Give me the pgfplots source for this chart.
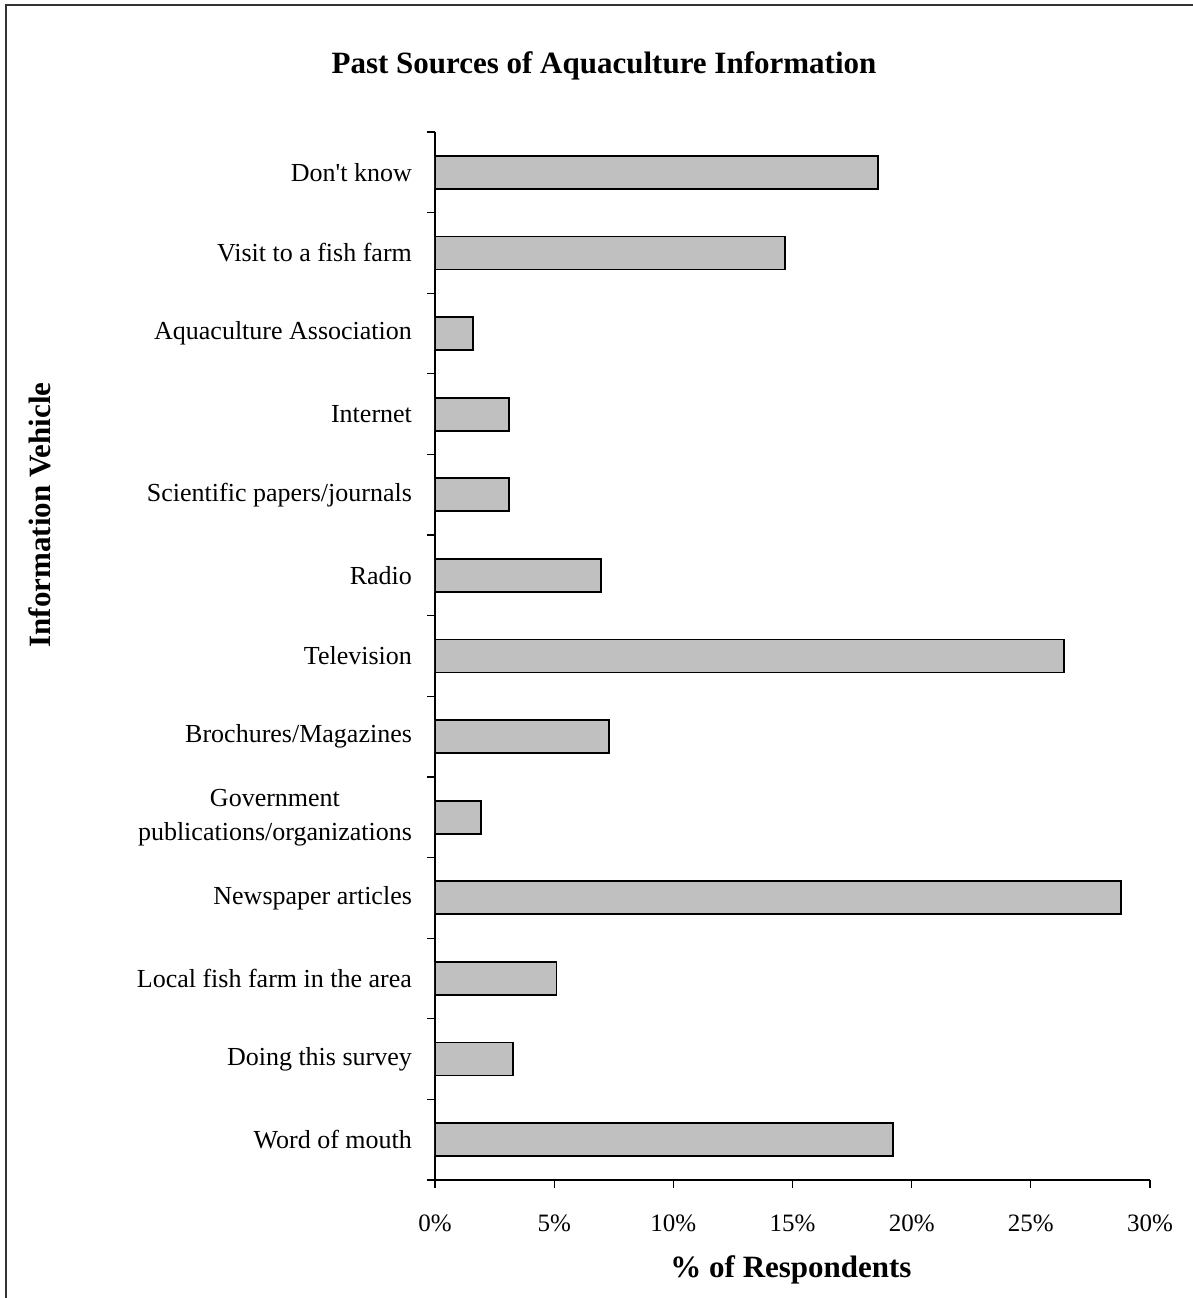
\documentclass[border=0pt]{standalone}
\usepackage{fontspec}
\setmainfont{Liberation Serif}[Ligatures=TeXOff]
\usepackage{pgfplots}
\pgfplotsset{compat=1.18}
\definecolor{barfill}{RGB}{192,192,192}
\definecolor{framec}{RGB}{51,51,51}
\begin{document}
\begin{tikzpicture}[x=1pt,y=1pt]
\useasboundingbox (0,0) rectangle (596.5,-649);
\draw[framec,line width=1.2pt] (3,-649) -- (3,-2.5) -- (596.5,-2.5);
\begin{axis}[
  at={(217.5pt,-590pt)}, anchor=south west,
  scale only axis, width=357.5pt, height=524pt,
  xbar, bar width=16.5pt,
  xmin=0, xmax=30, ymin=-0.5, ymax=12.5,
  axis x line*=bottom, axis y line*=left,
  axis line style={-, line width=0.6pt},
  tick align=outside,
  xtick={0,5,...,30},
  xticklabels={0\%,5\%,10\%,15\%,20\%,25\%,30\%},
  major tick length=4pt,
  ytick={0,...,12},
  yticklabels={Word of mouth,Doing this survey,Local fish farm in the area,Newspaper articles,{Government\\publications/organizations},Brochures/Magazines,Television,Radio,Scientific papers/journals,Internet,Aquaculture Association,Visit to a fish farm,Don't know},
  major y tick style={draw=none},
  minor ytick={-0.5,0.5,...,12.5},
  minor tick length=4pt,
  minor y tick style={line width=0.6pt, draw=black},
  x tick style={line width=0.6pt, black},
  xticklabel style={font=\fontsize{12.5}{17}\selectfont, yshift=-10pt},
  yticklabel style={font=\fontsize{13}{17}\selectfont, align=center, xshift=-4pt},
]
\addplot[fill=barfill, draw=black, line width=0.9pt] coordinates {
(19.2,0) (3.26,1) (5.1,2) (28.78,3) (1.93,4) (7.3,5) (26.4,6) (6.97,7) (3.1,8) (3.1,9) (1.58,10) (14.7,11) (18.6,12)
};
\end{axis}
\node[font=\fontsize{15.5}{18}\selectfont\bfseries] at (302,-33) {Past Sources of Aquaculture Information};
\node[font=\fontsize{15.5}{18}\selectfont\bfseries] at (395.5,-635) {\% of Respondents};
\node[font=\fontsize{15.5}{18}\selectfont\bfseries, rotate=90] at (20,-257.5) {Information Vehicle};
\end{tikzpicture}
\end{document}
